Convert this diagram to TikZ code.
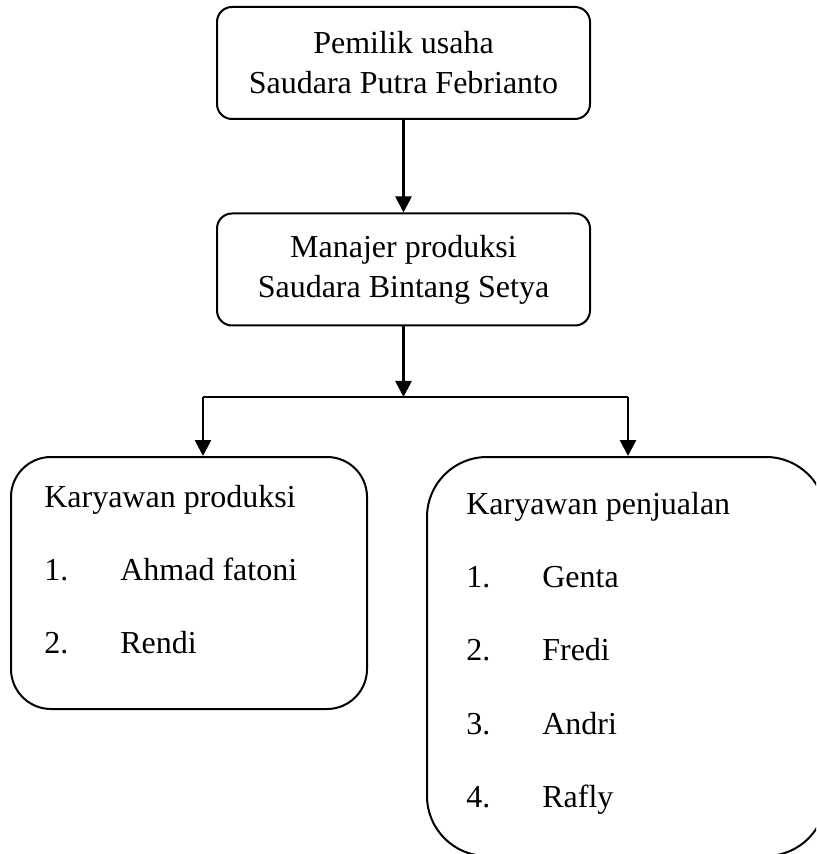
\documentclass[tikz,border=0pt]{standalone}
\usepackage{fontspec}
\setmainfont{Liberation Serif}
\usetikzlibrary{arrows.meta,positioning}

\begin{document}
\begin{tikzpicture}[x=0.5pt,y=-0.5pt,>={Triangle[length=8pt,width=8pt]},line width=1.3pt,node distance=103.25pt,
  top node/.style={draw,line width=1pt,rounded corners=7.5pt,fill=white,align=center,minimum width=186.5pt,minimum height=56pt,font=\fontsize{16}{20}\selectfont},
  list node/.style={draw,line width=1pt,fill=white},
  list text/.style={anchor=base west,inner sep=0pt,font=\fontsize{16}{19.5}\selectfont}]

  \clip (0,0) rectangle (816,854);
  \fill[white] (0,0) rectangle (816,854);

  \node[top node] (owner) at (403.5,63) {Pemilik usaha\\Saudara Putra Febrianto};
  \node[top node] (manager) [below of=owner] {Manajer produksi\\Saudara Bintang Setya};

  \node[list node, rounded corners=20pt, minimum width=178pt, minimum height=126pt] (production) at (189,583) {};
  \node[list node, rounded corners=30pt, minimum width=199.5pt, minimum height=199.5pt] (sales) at (626.5,656.5) {};

  \node[list text] (productionlist) at ([shift={(33,51)}]production.north west) {\begin{tabular}[t]{@{}p{38pt}@{}l@{}}
    \multicolumn{2}{@{}l@{}}{Karyawan produksi}\\[17.2pt]
    1. & Ahmad fatoni\\[17.2pt]
    2. & Rendi
  \end{tabular}};
  \node[list text] (saleslist) at ([shift={(39,58)}]sales.north west) {\begin{tabular}[t]{@{}p{38pt}@{}l@{}}
    \multicolumn{2}{@{}l@{}}{Karyawan penjualan}\\[17.2pt]
    1. & Genta\\[17.2pt]
    2. & Fredi\\[17.2pt]
    3. & Andri\\[17.2pt]
    4. & Rafly
  \end{tabular}};

  \coordinate (split) at (manager.south |- 0,397);
  \coordinate (splitL) at (203,397);
  \coordinate (splitR) at (628,397);

  \draw[->] (owner) -- (manager);
  \draw[->] (manager) -- (split);
  \draw (splitL) -- (splitR);
  \draw[->] (splitL) -- (splitL |- production.north);
  \draw[->] (splitR) -- (splitR |- sales.north);
\end{tikzpicture}
\end{document}
